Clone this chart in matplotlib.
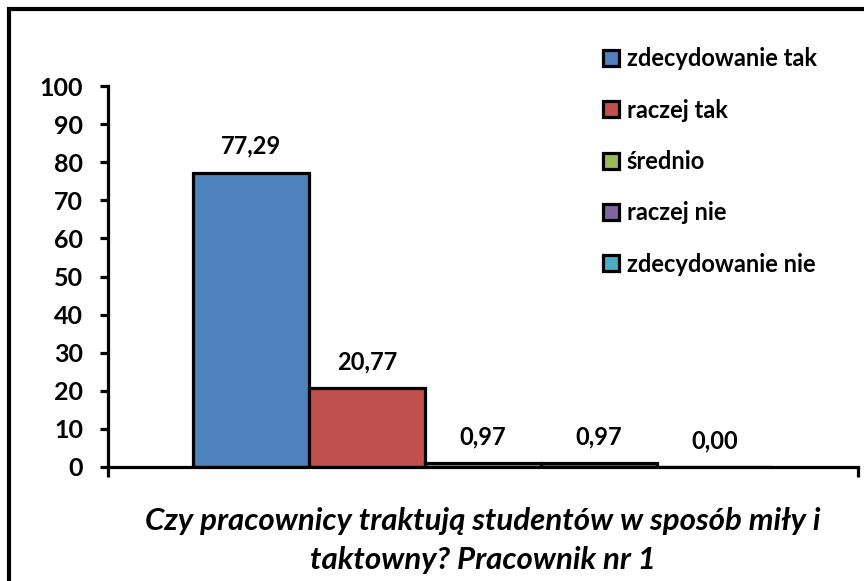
import matplotlib.pyplot as plt
from matplotlib.patches import Rectangle

plt.rcParams['font.family'] = ['Lato', 'DejaVu Sans']
plt.rcParams['font.weight'] = 'bold'

categories = ['zdecydowanie tak', 'raczej tak', 'średnio', 'raczej nie', 'zdecydowanie nie']
values = [77.29, 20.77, 0.97, 0.97, 0.00]
colors = ['#4F81BD', '#C0504D', '#9BBB59', '#8064A2', '#4BACC6']
yticks = [0, 10, 20, 30, 40, 50, 60, 70, 80, 90, 100]
xlabel = 'Czy pracownicy traktują studentów w sposób miły i\ntaktowny? Pracownik nr 1'

fig = plt.figure(figsize=(8.64, 5.81), dpi=100)
ax = fig.add_axes([108 / 864, 1 - 467 / 581, 750 / 864, 381 / 581])

x = range(len(values))
bars = ax.bar(x, values, width=1.0, color=colors, edgecolor='black', linewidth=2.3,
              label=categories)
for b, v in zip(bars, values):
    ax.annotate(f'{v:.2f}'.replace('.', ','), (b.get_x() + b.get_width() / 2, v),
                xytext=(0, 19), textcoords='offset points',
                ha='center', va='center', fontsize=17, fontweight='bold')

margin = 0.733
ax.set_xlim(-0.5 - margin, len(values) - 0.5 + margin)
ax.set_ylim(0, 100)
ax.set_yticks(yticks)
ax.tick_params(axis='y', labelsize=18, width=2.3, length=6, direction='out', pad=12)
ax.set_xticks([-0.5 - margin, len(values) - 0.5 + margin])
ax.set_xticklabels(['', ''])
ax.tick_params(axis='x', width=2.3, length=7, direction='out')
for s in ['top', 'right']:
    ax.spines[s].set_visible(False)
for s in ['left', 'bottom']:
    ax.spines[s].set_linewidth(2.3)
ax.set_xlabel(xlabel, fontsize=22.5, fontstyle='italic', fontweight='bold',
              labelpad=18, linespacing=1.5)

fig.legend(handles=list(bars), labels=categories, loc='upper left',
           bbox_to_anchor=(582 / 864, 1 - 26 / 581), frameon=False,
           fontsize=17, handlelength=0.65, handleheight=0.65, handletextpad=0.35,
           labelspacing=1.2)

fig.add_artist(Rectangle((9 / 864, -0.1), 1.0, 1 - 9 / 581 + 0.1,
                         transform=fig.transFigure, fill=False,
                         edgecolor='black', linewidth=3))

fig.savefig('out.png', dpi=100)
